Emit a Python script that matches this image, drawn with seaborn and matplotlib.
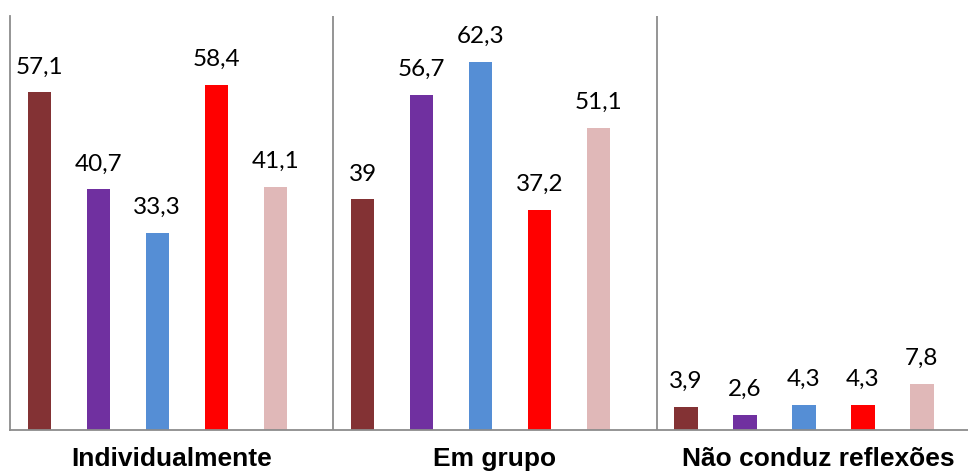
import matplotlib
matplotlib.use("Agg")
import matplotlib.pyplot as plt
import seaborn as sns
import pandas as pd

# Categories, series and their percentages
categorias = ["Individualmente", "Em grupo", "Não conduz reflexões"]
series = ["Série 1", "Série 2", "Série 3", "Série 4", "Série 5"]
serie_1 = [57.1, 39.0, 3.9]
serie_2 = [40.7, 56.7, 2.6]
serie_3 = [33.3, 62.3, 4.3]
serie_4 = [58.4, 37.2, 4.3]
serie_5 = [41.1, 51.1, 7.8]
cores = ["#833234", "#7030A0", "#558ED5", "#FF0000", "#E0B8B8"]

valores = [serie_1, serie_2, serie_3, serie_4, serie_5]
df = pd.DataFrame(
    [(c, s, v[i]) for s, v in zip(series, valores) for i, c in enumerate(categorias)],
    columns=["categoria", "serie", "valor"],
)

sns.set_theme(style="white")
fig = plt.figure(figsize=(9.68, 4.73), dpi=100)
ax = fig.add_axes([10 / 968, 43 / 473, 958 / 968, 414 / 473])

sns.barplot(
    data=df, x="categoria", y="valor", hue="serie", order=categorias,
    hue_order=series, palette=cores, width=0.9125, gap=0.605,
    saturation=1, legend=False, ax=ax, linewidth=0,
)

ax.set_ylim(0, 70)
ax.set_xlim(-0.4556, 2.5076)

# value labels above each bar
for cont in ax.containers:
    for bar in cont:
        h = bar.get_height()
        ax.annotate(f"{h:g}".replace(".", ","),
                    (bar.get_x() + bar.get_width() / 2, h),
                    xytext=(0, 13.5), textcoords="offset points",
                    ha="center", va="baseline", fontsize=17.5,
                    family="Lato", color="black")

# frame: left line, baseline and separators between groups
grey = "#8C8C8C"
for s in ["top", "right"]:
    ax.spines[s].set_visible(False)
ax.spines["left"].set_color(grey)
ax.spines["bottom"].set_color(grey)
ax.spines["left"].set_linewidth(1.3)
ax.spines["bottom"].set_linewidth(1.3)
for xs in [0.5435, 1.5455]:
    ax.axvline(xs, color=grey, lw=1.3)

ax.set_yticks([])
ax.set_xticks([0.044, 1.0445, 2.044])
ax.set_xticklabels(categorias, fontsize=19, fontweight="bold",
                   family="Liberation Sans", color="black")
ax.tick_params(axis="x", length=0, pad=12)
ax.set_xlabel("")
ax.set_ylabel("")

fig.savefig("out.png", dpi=100)
